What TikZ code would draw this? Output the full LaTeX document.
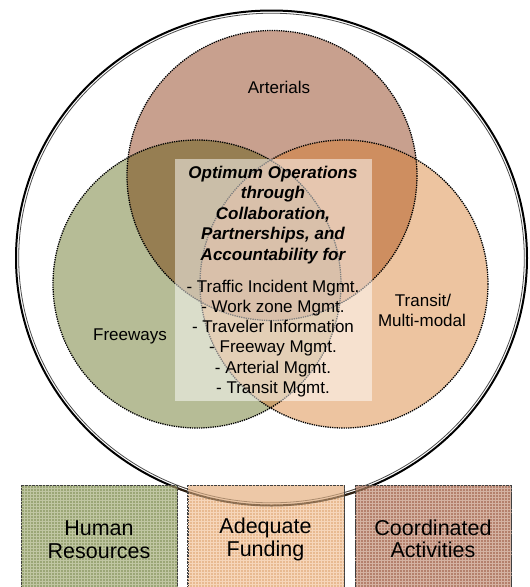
\documentclass[tikz,border=0pt]{standalone}
\usepackage{fontspec}
\setmainfont{Liberation Sans}
\usetikzlibrary{patterns}
\definecolor{colA}{RGB}{200,160,142}
\definecolor{colF}{RGB}{182,188,150}
\definecolor{colT}{RGB}{237,196,160}
\definecolor{colAF}{RGB}{150,126,82}
\definecolor{colAT}{RGB}{206,142,96}
\definecolor{colFT}{RGB}{200,160,110}
\definecolor{colAFT}{RGB}{180,130,85}
\definecolor{boxG}{RGB}{155,166,118}
\definecolor{boxGl}{RGB}{192,198,162}
\definecolor{boxP}{RGB}{232,186,145}
\definecolor{boxPl}{RGB}{246,214,186}
\definecolor{boxB}{RGB}{180,128,108}
\definecolor{boxBl}{RGB}{212,178,162}
\tikzset{
  dotline/.style={draw=black, line width=1.3pt, dash pattern=on 1.3pt off 1pt},
  lbl/.style={anchor=base, inner sep=0pt, font=\fontsize{17}{19.5}\selectfont},
  ttl/.style={anchor=base, inner sep=0pt, font=\fontsize{17}{20.4}\selectfont\bfseries\itshape},
  itm/.style={anchor=base, inner sep=0pt, font=\fontsize{17}{20.3}\selectfont},
  boxtxt/.style={anchor=base, inner sep=0pt, font=\fontsize{21.5}{23}\selectfont},
  resbox/.style={draw=black!75, line width=0.6pt, dash pattern=on 0.6pt off 0.8pt, minimum width=156pt, minimum height=120pt, anchor=north west, inner sep=0pt}
}
\begin{document}
\begin{tikzpicture}[x=1pt,y=-1pt]
\useasboundingbox[fill=white] (0,0) rectangle (530,587);
\coordinate (cBig) at (271.5,258);
\coordinate (cA) at (272,175.5);
\coordinate (cF) at (197,284);
\coordinate (cT) at (344,284);
% base fills
\fill[colA] (cA) circle (145);
\fill[colF] (cF) circle (144);
\fill[colT] (cT) circle (144);
\begin{scope}\clip (cF) circle (144); \fill[colAF] (cA) circle (145);\end{scope}
\begin{scope}\clip (cT) circle (144); \fill[colAT] (cA) circle (145);\end{scope}
\begin{scope}\clip (cF) circle (144); \fill[colFT] (cT) circle (144);\end{scope}
\begin{scope}\clip (cF) circle (144); \clip (cA) circle (145); \fill[colAFT] (cT) circle (144);\end{scope}
% outlines
\draw[dotline] (cA) circle (145);
\draw[dotline] (cF) circle (144);
\draw[dotline] (cT) circle (144);
% big circle
\draw[black, line width=2pt] (cBig) ellipse [x radius=255.5, y radius=247.5];
\draw[black!70, line width=0.8pt] (cBig) ellipse [x radius=252.8, y radius=244.8];
% central white panel
\fill[white, fill opacity=0.5] (175,159) rectangle (372,401);
% labels
\node[lbl] (arterials) at (279,93) {Arterials};
\node[lbl] (freeways) at (130,340) {Freeways};
\node[lbl] (transit1) at (423,306.5) {Transit/};
\node[lbl] (transit2) at (422,326) {Multi-modal};
% title
\foreach \t/\yy [count=\i] in {Optimum Operations/178, through/198.5, {Collaboration,}/219, {Partnerships, and}/239.5, Accountability for/260}
  \node[ttl] (ttl\i) at (273,\yy) {\t};
\foreach \t/\yy [count=\i] in {- Traffic Incident Mgmt./292, - Work zone Mgmt./312.3, - Traveler Information/332.6, - Freeway Mgmt./352.9, - Arterial Mgmt./373.2, - Transit Mgmt./393.5}
  \node[itm] (itm\i) at (273,\yy) {\t};
% bottom boxes
\node[resbox, fill=boxG] (box1) at (21,485) {};
\node[resbox, fill=boxP] (box2) at (187.5,485) {};
\node[resbox, fill=boxB] (box3) at (355,485) {};
\fill[pattern=grid, pattern color=boxGl] (box1.north west) rectangle (box1.south east);
\fill[pattern=grid, pattern color=boxPl] (box2.north west) rectangle (box2.south east);
\fill[pattern=grid, pattern color=boxBl] (box3.north west) rectangle (box3.south east);
% inside the big circle the boxes are plain
\begin{scope}
  \clip (cBig) ellipse [x radius=254.5, y radius=246.5];
  \fill[boxG!80!white] (box1.north west) rectangle (box1.south east);
  \fill[boxP!80!white] (box2.north west) rectangle (box2.south east);
  \fill[boxB!80!white] (box3.north west) rectangle (box3.south east);
\end{scope}
\begin{scope}
  \clip (box1.north west) rectangle (box3.south east);
  \draw[black!60!brown, line width=2pt, draw opacity=0.6] (cBig) ellipse [x radius=255.5, y radius=247.5];
  \draw[black!60!brown, line width=0.8pt, draw opacity=0.4] (cBig) ellipse [x radius=252.8, y radius=244.8];
\end{scope}
\draw[resbox] (box1.north west) rectangle (box1.south east);
\draw[resbox] (box2.north west) rectangle (box2.south east);
\draw[resbox] (box3.north west) rectangle (box3.south east);
\node[boxtxt] (b1a) at (99,535.5) {Human};
\node[boxtxt] (b1b) at (99,558) {Resources};
\node[boxtxt] (b2a) at (265.5,533.5) {Adequate};
\node[boxtxt] (b2b) at (265.5,556.5) {Funding};
\node[boxtxt] (b3a) at (433,535) {Coordinated};
\node[boxtxt] (b3b) at (433,557.5) {Activities};
\end{tikzpicture}
\end{document}
